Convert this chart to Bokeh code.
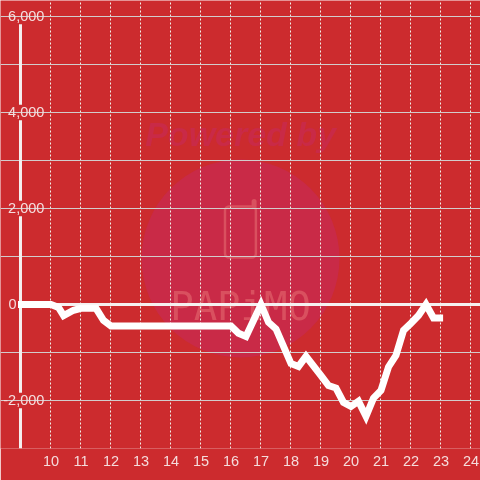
from bokeh.plotting import figure
from bokeh.models import FixedTicker, Label, Grid
from bokeh.embed import file_html
from bokeh.resources import INLINE
from bokeh.core.properties import value

hours = [8.9, 10.0, 10.25, 10.42, 10.75, 11.0, 11.5, 11.75, 12.0, 16.0, 16.25, 16.5, 17.0, 17.25, 17.5, 18.0, 18.25,
         18.5, 19.0, 19.25, 19.5, 19.75, 20.0, 20.25, 20.5, 20.75, 21.0, 21.25, 21.5, 21.75, 22.0, 22.25, 22.5, 22.75, 23.07]
balance = [0, 0, -60, -230, -120, -80, -80, -330, -450, -450, -600, -667, 0, -370, -510, -1230, -1290,
           -1080, -1480, -1690, -1740, -2040, -2125, -2015, -2330, -1950, -1790, -1300, -1060, -540, -390, -230, 0, -280, -280]
x_ticks = list(range(10, 25))
y_major = [6000, 4000, 2000, -2000]
y_labels = ["6,000", "4,000", "2,000", "-2,000"]
y_minor = [5000, 3000, 1000, -1000, -3000]

BG = "#cc2b2e"
TXT = "#f5dcdc"
WM = "#d9505f"
GRID = "#d2cccc"
AXIS_X = 8.983
LABEL_X = 9.78
RIGHT = 24.3167

p = figure(width=480, height=480, output_backend="svg", toolbar_location=None,
           x_range=(8.3167, RIGHT), y_range=(-3000, 6333.3),
           x_axis_location="below", y_axis_location=None,
           min_border_left=0, min_border_right=0, min_border_top=0, min_border_bottom=32,
           background_fill_color=BG, border_fill_color=BG, outline_line_color=None)
p.styles = {"position": "fixed", "left": "0", "top": "0"}

# watermark
p.circle([16.317], [958], radius=99, radius_units="screen", fill_color="#c92a47", line_color=None, level="image")
p.text([16.32], [3562], text=["Powered by"], text_font=value("Liberation Sans"), text_font_style="bold italic",
       text_font_size="34px", text_color="#c92a47", text_align="center", text_baseline="middle", level="image")
p.quad(left=[15.8], right=[16.83], top=[2042], bottom=[980], fill_color=None, line_color=WM, line_width=2.5,
       border_radius=4, level="image")
p.line([16.77, 16.77], [2042, 2146], line_color=WM, line_width=5, line_cap="round", level="image")
p.text([16.32], [-42], text=["PAPiMO"], text_font=value("DejaVu Sans Mono"), text_font_size="39px",
       text_color=WM, text_align="center", text_baseline="alphabetic", level="image")

# x axis
xa = p.xaxis[0]
xa.ticker = FixedTicker(ticks=x_ticks)
xa.axis_line_color = None
xa.major_tick_line_color = None
xa.minor_tick_line_color = None
xa.major_label_text_color = TXT
xa.major_label_text_font = "Liberation Sans"
xa.major_label_text_font_size = "14.5px"
xa.major_label_standoff = 1

# grids
xg = p.xgrid[0]
xg.ticker = FixedTicker(ticks=x_ticks)
xg.bounds = (-2950, 6000)
xg.grid_line_color = "#f0f0ea"
xg.grid_line_dash = "2 2"
yg = p.ygrid[0]
yg.ticker = FixedTicker(ticks=y_minor)
yg.bounds = (AXIS_X, RIGHT)
yg.grid_line_color = GRID
p.add_layout(Grid(dimension=1, ticker=FixedTicker(ticks=y_major), bounds=(9.85, RIGHT), grid_line_color=GRID))

# axis line, interrupted behind the tick labels
gap = 160
p.segment([AXIS_X] * 4, [6000 - gap, 4000 - gap, 2000 - gap, -2000 - gap],
          [AXIS_X] * 4, [4000 + gap, 2000 + gap, -2000 + gap, -3000],
          line_color="#f5f0f0", line_width=3)

# zero line
p.line([AXIS_X, RIGHT], [0, 0], line_color="#f5f0f0", line_width=3)
# series
p.line(hours, balance, line_color="white", line_width=7, line_join="miter")

# y tick labels
for yv, t in zip(y_major, y_labels):
    p.add_layout(Label(x=LABEL_X, y=yv, text=t, text_font="Liberation Sans", text_font_size="14.5px",
                       text_color=TXT, text_align="right", text_baseline="middle"))
p.add_layout(Label(x=8.85, y=0, text="0", text_font="Liberation Sans", text_font_size="14.5px",
                   text_color=TXT, text_align="right", text_baseline="middle"))

open("out.html", "w").write(file_html(p, INLINE))
